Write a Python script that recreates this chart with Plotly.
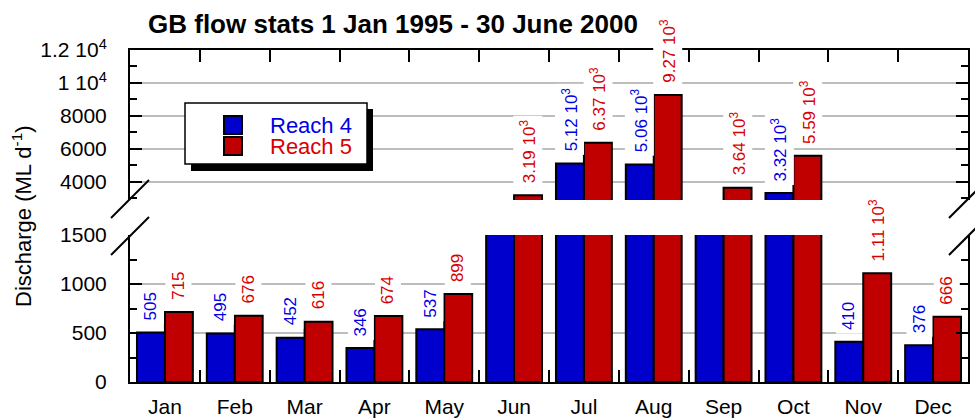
import plotly.graph_objects as go

# Monthly mean discharge (ML/day), 1 Jan 1995 - 30 June 2000
months = ["Jan", "Feb", "Mar", "Apr", "May", "Jun",
          "Jul", "Aug", "Sep", "Oct", "Nov", "Dec"]
reach4 = [505, 495, 452, 346, 537, 2300, 5120, 5060, 2600, 3320, 410, 376]
reach5 = [715, 676, 616, 674, 899, 3190, 6370, 9270, 3640, 5590, 1110, 666]
series_names = ["Reach 4", "Reach 5"]

# Broken value axis: lower and upper segments
low_range = [0, 1500]
low_ticks = [0, 500, 1000, 1500]
low_ticktext = ["0", "500", "1000", "1500"]
low_minor = [250, 750, 1250]

high_range = [2900, 12000]
high_ticks = [4000, 6000, 8000, 10000, 12000]
high_ticktext = ["4000", "6000", "8000", "1 10<sup>4</sup>", "1.2 10<sup>4</sup>"]
high_minor = [3000, 5000, 7000, 9000, 11000]

BAR_COLORS = ["#0000CC", "#C00000"]
TEXT_COLORS = ["#0000E6", "#D80000"]
FONT = "Arial, Liberation Sans, sans-serif"
GRID = "#BDBDBD"

# Pixel geometry of the plotting area
W, H = 975, 419
ML, MR, MT, MB = 130, 7, 50, 37
PW, PH = W - ML - MR, H - MT - MB
LOW_TOP_PX, HIGH_BOT_PX = 235, 200


def px_to_paper_x(px):
    return (px - ML) / PW


def px_to_paper_y(py):
    return (H - MB - py) / PH


low_domain = [0, px_to_paper_y(LOW_TOP_PX)]
high_domain = [px_to_paper_y(HIGH_BOT_PX), 1]


def fmt(v):
    return str(v) if v < 1000 else f"{v / 1000:.2f} 10<sup>3</sup>"


fig = go.Figure()
series = [reach4, reach5]
for xa, ya in (("x", "y"), ("x2", "y2")):
    for k, vals in enumerate(series):
        fig.add_trace(go.Bar(
            x=months, y=vals, name=series_names[k], xaxis=xa, yaxis=ya,
            marker=dict(color=BAR_COLORS[k], line=dict(color="black", width=2)),
            showlegend=False, hoverinfo="x+y",
        ))

# Rotated value labels above every bar
annotations = []
for k, vals in enumerate(series):
    off = -0.2 if k == 0 else 0.2
    for i, v in enumerate(vals):
        if v <= low_range[1]:
            yref = "y"
        elif v >= high_range[0]:
            yref = "y2"
        else:
            continue
        annotations.append(dict(
            x=i + off, y=v, xref="x", yref=yref, text=fmt(v),
            showarrow=False, textangle=-90, yanchor="bottom", xanchor="center",
            yshift=8, bgcolor="white", borderpad=3,
            font=dict(family=FONT, size=17, color=TEXT_COLORS[k]),
        ))

# Title and value-axis title
annotations.append(dict(
    x=px_to_paper_x(146), y=px_to_paper_y(24), xref="paper", yref="paper",
    text="<b>GB flow stats 1 Jan 1995 - 30 June 2000</b>", showarrow=False,
    xanchor="left", yanchor="middle",
    font=dict(family=FONT, size=26, color="black"),
))
annotations.append(dict(
    x=px_to_paper_x(22), y=px_to_paper_y(216), xref="paper", yref="paper",
    text="Discharge (ML d<sup>-1</sup>)", showarrow=False, textangle=-90,
    xanchor="center", yanchor="middle",
    font=dict(family=FONT, size=22, color="black"),
))

shapes = []
# Axis-break slashes on both value axes
for ax_px in (ML, ML + PW):
    for cy in (HIGH_BOT_PX - 1, LOW_TOP_PX + 1):
        shapes.append(dict(
            type="line", xref="paper", yref="paper",
            x0=px_to_paper_x(ax_px - 19), y0=px_to_paper_y(cy + 19),
            x1=px_to_paper_x(ax_px + 19), y1=px_to_paper_y(cy - 19),
            line=dict(color="black", width=2),
        ))

# Legend box with drop shadow
lx0, ly0, lx1, ly1 = 185, 103, 367, 164
shapes.append(dict(type="rect", xref="paper", yref="paper",
                   x0=px_to_paper_x(lx0 + 6), x1=px_to_paper_x(lx1 + 6),
                   y0=px_to_paper_y(ly1 + 7), y1=px_to_paper_y(ly0 + 6),
                   fillcolor="black", line=dict(width=0)))
shapes.append(dict(type="rect", xref="paper", yref="paper",
                   x0=px_to_paper_x(lx0), x1=px_to_paper_x(lx1),
                   y0=px_to_paper_y(ly1), y1=px_to_paper_y(ly0),
                   fillcolor="white", line=dict(color="black", width=1.5)))
for k, (sy0, sy1) in enumerate(((116, 134), (137, 155))):
    shapes.append(dict(type="rect", xref="paper", yref="paper",
                       x0=px_to_paper_x(224), x1=px_to_paper_x(242),
                       y0=px_to_paper_y(sy1), y1=px_to_paper_y(sy0),
                       fillcolor=BAR_COLORS[k], line=dict(color="black", width=2)))
    annotations.append(dict(
        x=px_to_paper_x(354), y=px_to_paper_y((sy0 + sy1) / 2), xref="paper", yref="paper",
        text=series_names[k], showarrow=False, xanchor="right", yanchor="middle",
        font=dict(family=FONT, size=22, color=TEXT_COLORS[k]),
    ))

xcommon = dict(
    type="category", range=[-0.5, len(months) - 0.5], tickson="boundaries",
    ticks="inside", ticklen=12, tickwidth=1.5, tickcolor="black",
    showline=True, linecolor="black", linewidth=2, showgrid=False,
    automargin=False,
    tickfont=dict(family=FONT, size=21, color="black"),
)
ycommon = dict(
    ticks="inside", ticklen=12, tickwidth=1.5, tickcolor="black",
    showline=True, linecolor="black", linewidth=2, mirror="allticks",
    showgrid=True, gridcolor=GRID, gridwidth=1.5, zeroline=False,
    tickmode="array", ticklabelstandoff=17, automargin=False,
    tickfont=dict(family=FONT, size=21, color="black"),
)

fig.update_layout(
    width=W, height=H,
    margin=dict(l=ML, r=MR, t=MT, b=MB, pad=0, autoexpand=False),
    paper_bgcolor="white", plot_bgcolor="white",
    barmode="group", bargap=0.2, bargroupgap=0,
    font=dict(family=FONT, color="black"),
    xaxis=dict(anchor="y", ticklabelstandoff=5, **xcommon),
    xaxis2=dict(anchor="y2", matches="x", side="top", showticklabels=False, **xcommon),
    yaxis=dict(domain=low_domain, range=low_range, tickvals=low_ticks,
               ticktext=low_ticktext,
               minor=dict(ticks="inside", ticklen=7, tickwidth=1.5, tickcolor="black",
                          tickmode="array", tickvals=low_minor, showgrid=False),
               **ycommon),
    yaxis2=dict(domain=high_domain, range=high_range, tickvals=high_ticks,
                ticktext=high_ticktext, anchor="x2",
                minor=dict(ticks="inside", ticklen=7, tickwidth=1.5, tickcolor="black",
                           tickmode="array", tickvals=high_minor, showgrid=False),
                **ycommon),
    annotations=annotations, shapes=shapes,
    showlegend=False,
)

fig.write_html("out.html")
